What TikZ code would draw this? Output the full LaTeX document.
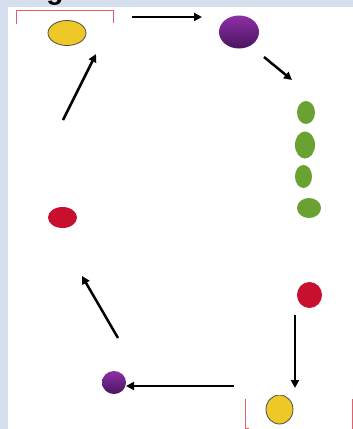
\documentclass[tikz,border=0pt]{standalone}
\usepackage{fontspec}
\setmainfont{Liberation Sans}
\usetikzlibrary{shapes.geometric,arrows.meta}
\definecolor{bandblue}{HTML}{D5DFEE}
\definecolor{yel}{HTML}{EEC827}
\definecolor{grn}{HTML}{6AA232}
\definecolor{redd}{HTML}{C8102E}
\definecolor{ptop}{HTML}{8E2FA6}
\definecolor{pbot}{HTML}{4A1460}
\definecolor{brk}{HTML}{E0606E}
\tikzset{
  blob/.style={ellipse, inner sep=0pt, outer sep=0pt},
  yelblob/.style={blob, fill=yel, draw=black!70, line width=0.8pt},
  grnblob/.style={blob, fill=grn},
  redblob/.style={blob, fill=redd},
  purblob/.style={blob, top color=ptop, bottom color=pbot},
  flow/.style={line width=2.5pt, -{Triangle[length=8pt,width=8pt]}},
  bracket/.style={draw=brk, line width=1pt}
}
\begin{document}
\begin{tikzpicture}[x=1pt,y=-1pt]
\useasboundingbox (0,0) rectangle (353,429);
\fill[bandblue] (0,0) rectangle (353,429);
\fill[white] (8,7) rectangle (353,429);
\node[anchor=base, font=\bfseries\fontsize{28}{30}\selectfont, inner sep=0pt] (gl) at (55,-1) {g};
% brackets
\draw[bracket] (16,24) -- (16,10) -- (113,10) -- (113,23);
\draw[bracket] (245,399) -- (245,428) -- (249,428);
\draw[bracket] (352,399) -- (352,429);
% nodes
\node[yelblob, minimum width=38pt, minimum height=25pt] (y1) at (67,33) {};
\node[purblob, minimum width=40pt, minimum height=33pt] (p1) at (239,32) {};
\node[grnblob, minimum width=18pt, minimum height=23pt] (g1) at (306,112.5) {};
\node[grnblob, minimum width=20pt, minimum height=27pt] (g2) at (305,145) {};
\node[grnblob, minimum width=17pt, minimum height=23pt] (g3) at (303.5,176.5) {};
\node[grnblob, minimum width=24pt, minimum height=20pt] (g4) at (309,208) {};
\node[redblob, minimum width=25pt, minimum height=26pt] (r1) at (309.5,295) {};
\begin{scope}
\clip (250,395) rectangle (320,429);
\node[yelblob, minimum width=27pt, minimum height=29pt] (y2) at (279.5,409.5) {};
\end{scope}
\node[purblob, minimum width=24pt, minimum height=23pt] (p2) at (114,382.5) {};
\node[redblob, minimum width=29pt, minimum height=21pt] (r2) at (62.5,217.5) {};
% connector ends
\coordinate (a1s) at (132,17);  \coordinate (a1e) at (202,17);
\coordinate (a2s) at (264,57);  \coordinate (a2e) at (292,80);
\coordinate (a3s) at (295,315); \coordinate (a3e) at (295,388);
\coordinate (a4s) at (234,386); \coordinate (a4e) at (126,386);
\coordinate (a5s) at (118,338); \coordinate (a5e) at (82,276);
\coordinate (a6s) at (63,120);  \coordinate (a6e) at (96,54);
\draw[flow] (a1s) -- (a1e);
\draw[flow] (a2s) -- (a2e);
\draw[flow] (a3s) -- (a3e);
\draw[flow] (a4s) -- (a4e);
\draw[flow] (a5s) -- (a5e);
\draw[flow] (a6s) -- (a6e);
\end{tikzpicture}
\end{document}
